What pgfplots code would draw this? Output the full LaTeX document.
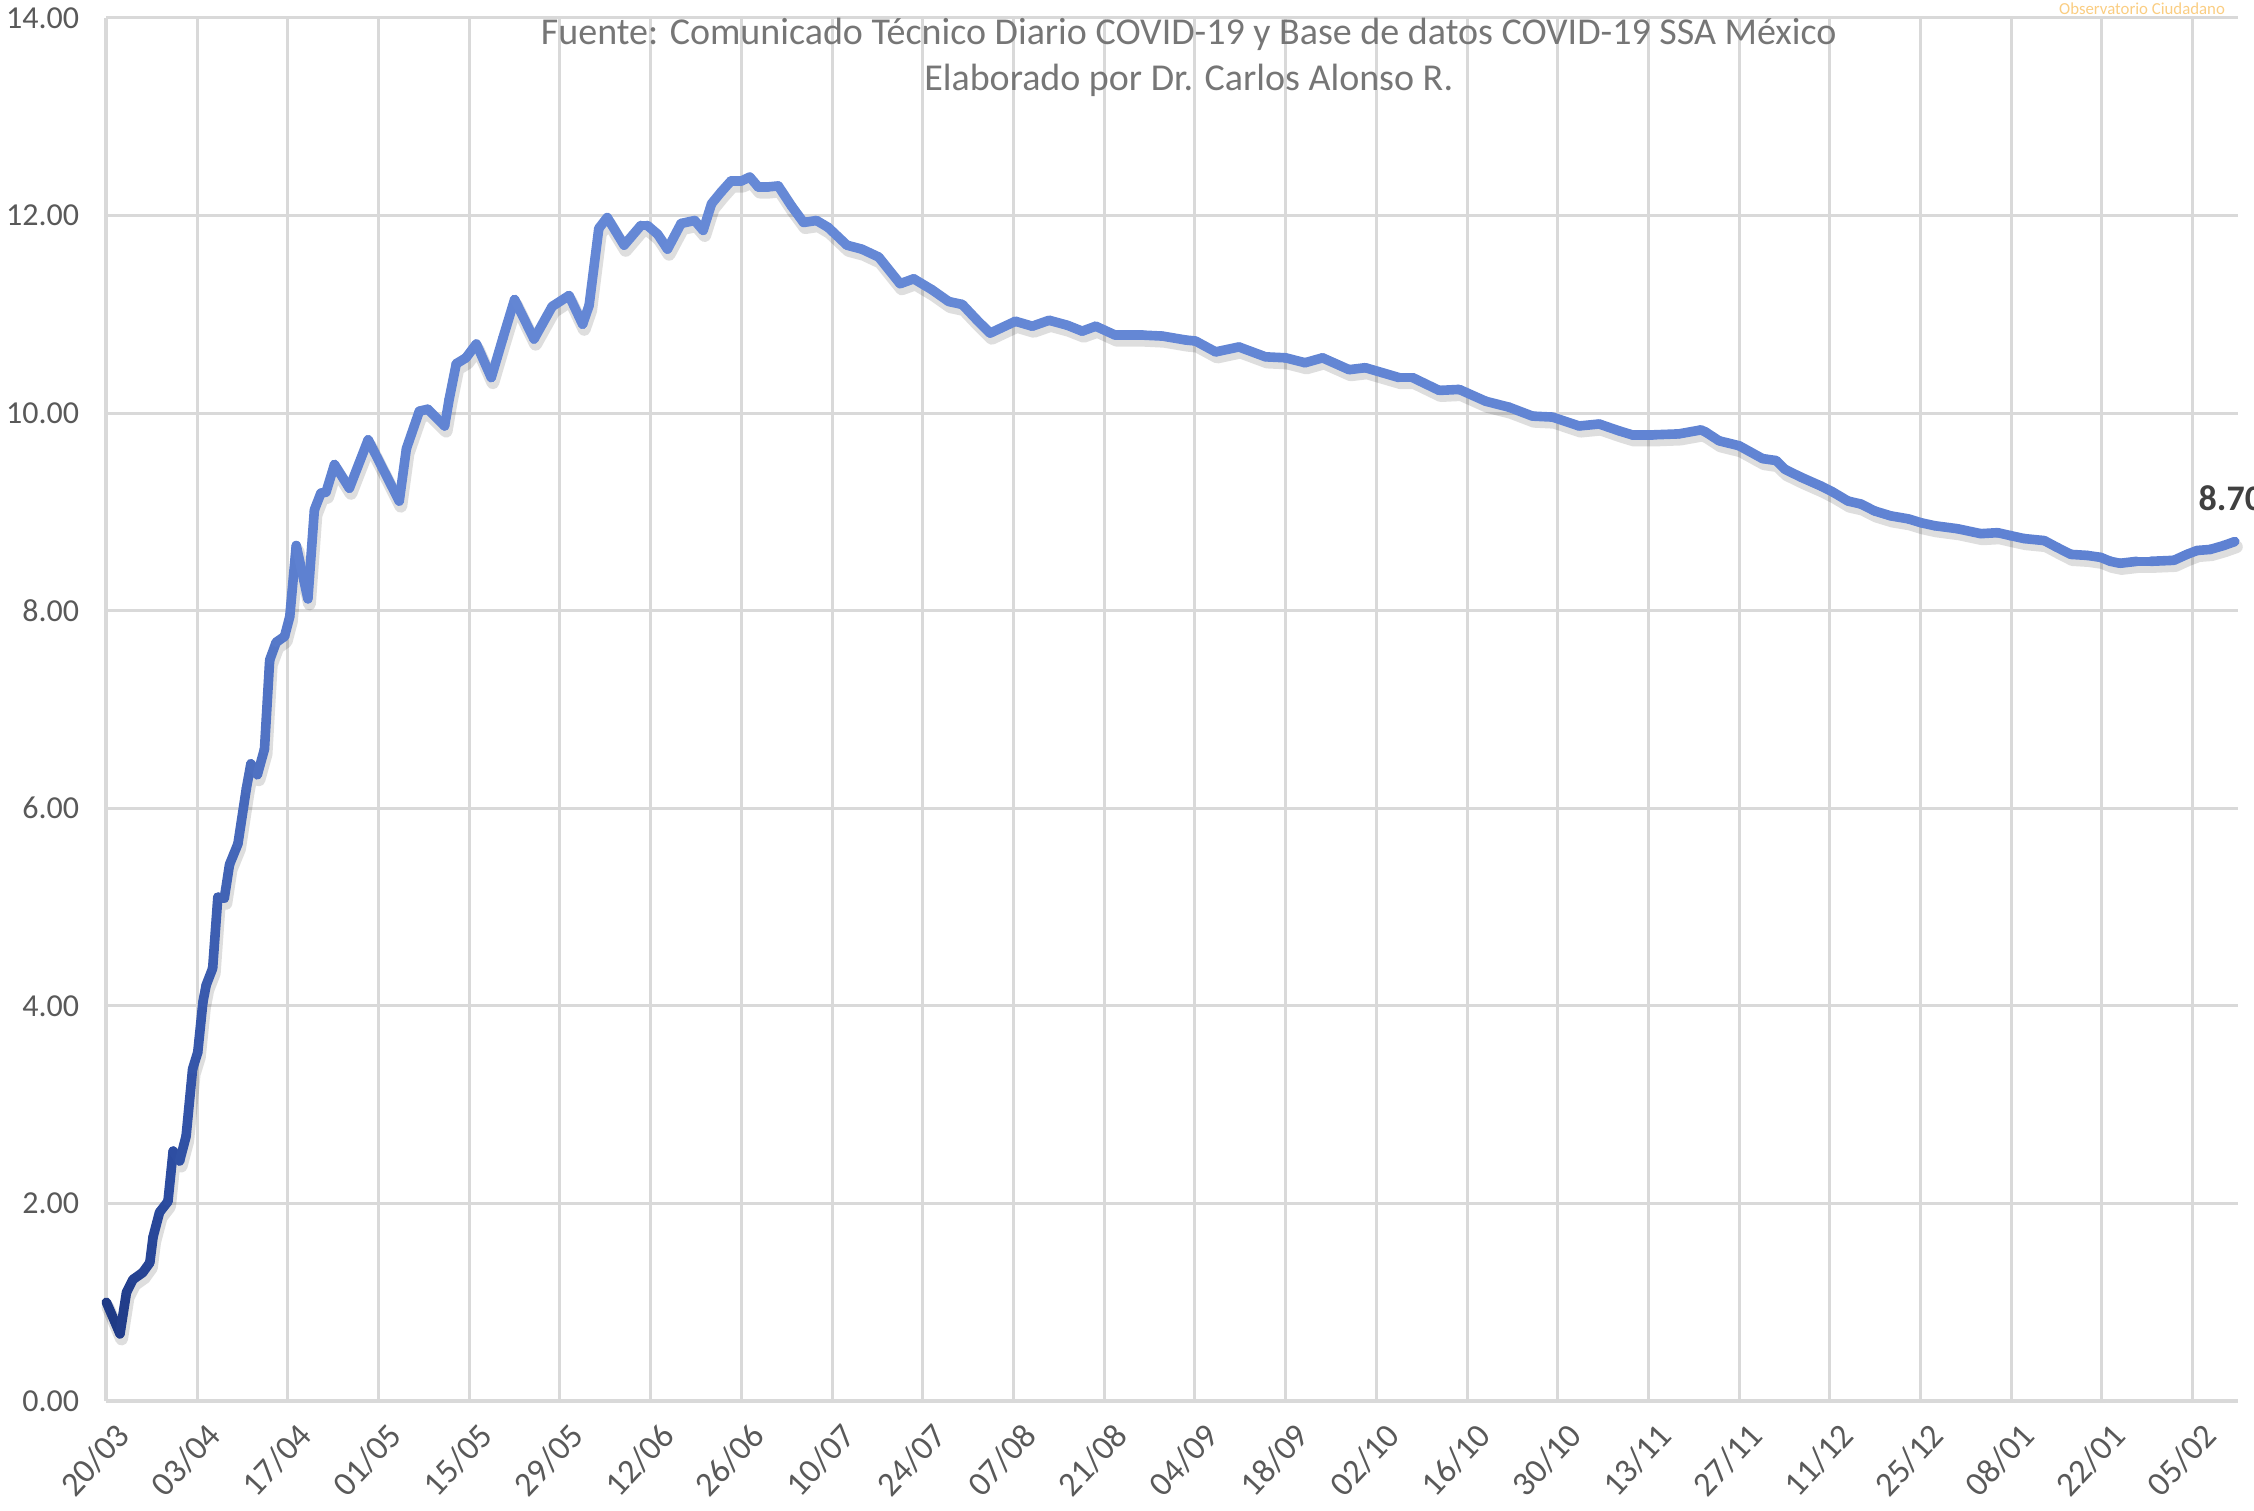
\documentclass[border=0pt]{standalone}
\usepackage{pgfplots}
\pgfplotsset{compat=1.18}
\usepackage{pgfplotstable}
\usepackage{fontspec}
\setmainfont{Carlito}
\definecolor{gridc}{RGB}{217,217,217}
\definecolor{tickc}{RGB}{89,89,89}
\definecolor{titlec}{RGB}{118,118,118}
\definecolor{labc}{RGB}{64,64,64}
\definecolor{wmark}{RGB}{250,205,130}

\pgfplotstableread{
d v
0 1.00
2.1 0.68
3.1 1.10
4.1 1.23
5.6 1.30
6.7 1.40
7.2 1.66
8.2 1.91
9.5 2.02
10.3 2.53
11.3 2.43
12.3 2.68
13.3 3.36
14.1 3.53
14.9 4.04
15.4 4.21
16.4 4.38
17.2 5.10
18.2 5.09
19.0 5.43
20.3 5.64
21.6 6.20
22.3 6.45
23.3 6.34
24.4 6.60
25.2 7.50
26.2 7.68
27.5 7.74
28.3 7.94
29.3 8.66
31.1 8.12
32.1 9.02
33.1 9.19
33.9 9.20
35.2 9.48
37.5 9.24
40.4 9.73
45.2 9.11
46.3 9.64
48.3 10.02
49.6 10.04
52.2 9.87
52.9 10.14
54.0 10.50
55.5 10.56
57.1 10.70
59.4 10.36
61.2 10.76
63.0 11.15
66.0 10.75
68.8 11.08
71.4 11.19
73.5 10.90
74.5 11.09
76.0 11.87
77.3 11.98
79.9 11.70
82.5 11.90
83.5 11.90
85.1 11.81
86.6 11.66
88.7 11.92
90.8 11.95
92.1 11.85
93.4 12.12
94.9 12.24
96.4 12.35
98.0 12.35
99.3 12.39
100.6 12.29
102.1 12.29
103.7 12.30
105.7 12.10
107.6 11.93
109.6 11.95
111.4 11.88
114.3 11.70
116.6 11.66
119.2 11.58
122.5 11.31
124.6 11.36
127.4 11.25
130.0 11.13
132.1 11.10
134.4 10.94
136.4 10.81
140.3 10.93
142.9 10.88
145.5 10.94
148.3 10.89
150.6 10.83
152.7 10.88
155.7 10.79
159.9 10.79
163.0 10.78
166.6 10.74
168.1 10.73
171.2 10.62
174.8 10.67
178.9 10.57
182.0 10.56
185.0 10.51
187.7 10.56
191.8 10.44
194.3 10.46
196.9 10.41
199.5 10.36
201.6 10.36
205.7 10.23
208.8 10.24
212.9 10.12
216.5 10.06
220.1 9.97
223.2 9.96
227.3 9.87
230.4 9.89
233.5 9.82
235.5 9.78
238.6 9.78
242.7 9.79
246.1 9.83
246.8 9.81
248.9 9.72
252.0 9.67
255.6 9.54
257.7 9.52
259.1 9.43
261.6 9.35
264.7 9.26
266.5 9.20
268.8 9.11
270.8 9.08
272.9 9.01
275.4 8.96
278.1 8.93
280.1 8.89
282.2 8.86
285.7 8.83
289.3 8.78
291.9 8.79
293.9 8.76
296.0 8.73
299.1 8.71
301.1 8.64
303.2 8.57
305.7 8.56
307.8 8.54
309.3 8.50
310.8 8.48
313.4 8.50
315.5 8.50
319.1 8.51
321.1 8.57
322.7 8.61
324.7 8.62
326.8 8.66
328.5 8.70
}\datatable

\begin{document}
\begin{tikzpicture}
\begin{axis}[
  scale only axis,
  width=532.9pt, height=345.75pt,
  xmin=0, xmax=329, ymin=0, ymax=14,
  xtick={0,14,...,322},
  xticklabels={20/03,03/04,17/04,01/05,15/05,29/05,12/06,26/06,10/07,24/07,07/08,21/08,04/09,18/09,02/10,16/10,30/10,13/11,27/11,11/12,25/12,08/01,22/01,05/02},
  ytick={0,2,...,14},
  /pgf/number format/assume math mode=true,
  yticklabel style={/pgf/number format/fixed, /pgf/number format/fixed zerofill, /pgf/number format/precision=2, xshift=-3.3pt},
  ticklabel style={font=\fontsize{8}{9.6}\selectfont, text=tickc},
  xticklabel style={font=\fontsize{8.6}{10}\selectfont, rotate=47, anchor=east, yshift=-8pt, xshift=1.2pt},
  grid=major,
  major grid style={gridc, line width=0.75pt},
  axis lines*=left,
  axis line style={gridc, line width=1pt, -},
  tick style={draw=none},
  clip=false,
  colormap={blues}{rgb255(0pt)=(30,56,130) rgb255(10pt)=(44,76,160) rgb255(30pt)=(94,129,209) rgb255(90pt)=(102,137,214) rgb255(330pt)=(94,129,210)},
  point meta min=0, point meta max=330,
]
\coordinate (BL) at (rel axis cs:0,0);
\addplot[draw=black, opacity=0.13, line width=3.2pt, line cap=round, line join=round, yshift=-1.3pt, xshift=0.4pt] table[x=d, y=v] {\datatable};
\addplot[mesh, point meta=x, line width=2.4pt, line cap=round, line join=round] table[x=d, y=v] {\datatable};
\node[anchor=west, text=labc, font=\fontsize{9}{10}\selectfont\bfseries, inner sep=0pt] at (axis cs:322.8,9.14) {8.70};
\end{axis}
\node[text=titlec, font=\fontsize{9.5}{11}\selectfont, inner sep=0pt] at ([shift={(270.6pt,341.6pt)}]BL) {Fuente: Comunicado Técnico Diario COVID-19 y Base de datos COVID-19 SSA México};
\node[text=titlec, font=\fontsize{9.5}{11}\selectfont, inner sep=0pt] at ([shift={(270.6pt,330.2pt)}]BL) {Elaborado por Dr. Carlos Alonso R.};
\node[text=wmark, font=\fontsize{4.2}{5}\selectfont, inner sep=0pt] at ([shift={(508.9pt,348pt)}]BL) {Observatorio Ciudadano};
\pgfresetboundingbox
\path[use as bounding box] ([shift={(-26.6pt,-27.25pt)}]BL) rectangle ([shift={(536.9pt,350.25pt)}]BL);
\end{tikzpicture}
\end{document}
